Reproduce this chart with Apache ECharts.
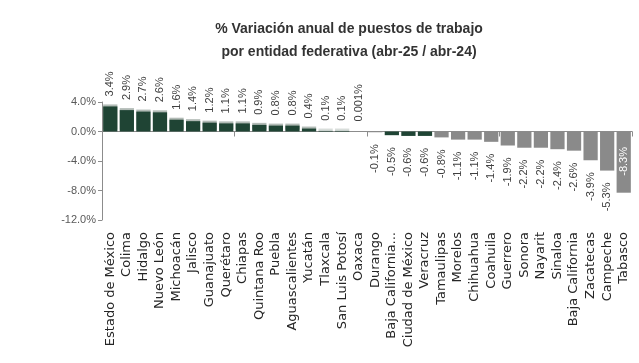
<!DOCTYPE html>
<html>
<head>
<meta charset="utf-8">
<script src="https://cdn.jsdelivr.net/npm/echarts@6/dist/echarts.min.js"></script>
<style>html,body{margin:0;padding:0;background:#fff}#c{width:639px;height:363px}</style>
</head>
<body>
<div id="c"></div>
<script>
const categories = ["Estado de México","Colima","Hidalgo","Nuevo León","Michoacán","Jalisco","Guanajuato","Querétaro","Chiapas","Quintana Roo","Puebla","Aguascalientes","Yucatán","Tlaxcala","San Luis Potosí","Oaxaca","Durango","Baja California...","Ciudad de México","Veracruz","Tamaulipas","Morelos","Chihuahua","Coahuila","Guerrero","Sonora","Nayarit","Sinaloa","Baja California","Zacatecas","Campeche","Tabasco"];
const values = [3.4,2.9,2.7,2.6,1.6,1.4,1.2,1.1,1.1,0.9,0.8,0.8,0.4,0.1,0.1,0.001,-0.1,-0.5,-0.6,-0.6,-0.8,-1.1,-1.1,-1.4,-1.9,-2.2,-2.2,-2.4,-2.6,-3.9,-5.3,-8.3];
const valueLabels = ["3.4%","2.9%","2.7%","2.6%","1.6%","1.4%","1.2%","1.1%","1.1%","0.9%","0.8%","0.8%","0.4%","0.1%","0.1%","0.001%","-0.1%","-0.5%","-0.6%","-0.6%","-0.8%","-1.1%","-1.1%","-1.4%","-1.9%","-2.2%","-2.2%","-2.4%","-2.6%","-3.9%","-5.3%","-8.3%"];
const yTicks = {min:-12, max:4, interval:4};

const GREEN = '#1f4434';
const GRAY = '#8a8a8a';
const data = values.map((v, i) => {
  const isGreen = i < 16 || (i >= 17 && i <= 19);
  const item = {
    value: v,
    itemStyle: { color: isGreen ? GREEN : GRAY }
  };
  if (v > 0) {
    item.itemStyle.shadowColor = 'rgba(170,180,174,0.9)';
    item.itemStyle.shadowOffsetY = -2;
    item.itemStyle.shadowBlur = 0;
    item.label = { position: 'top', align: 'left', verticalAlign: 'middle', distance: 10 };
  } else if (i === values.length - 1) {
    item.label = { position: 'insideBottom', align: 'left', verticalAlign: 'middle', distance: 17, color: '#ffffff' };
  } else {
    item.label = { position: 'bottom', align: 'right', verticalAlign: 'middle', distance: 12 };
  }
  return item;
});

const chart = echarts.init(document.getElementById('c'), null, {renderer: 'canvas'});
chart.setOption({
  animation: false,
  backgroundColor: '#ffffff',
  title: {
    text: '% Variación anual de puestos de trabajo\npor entidad federativa (abr-25 / abr-24)',
    left: 344, top: 13, textAlign: 'center',
    textStyle: { fontFamily: 'Liberation Sans', fontWeight: 'bold', fontSize: 14, color: '#333333', lineHeight: 23 }
  },
  grid: { left: 102, right: 7, top: 102, bottom: 143, containLabel: false },
  xAxis: [
    {
      type: 'category', data: categories, position: 'bottom',
      axisLine: { onZero: true, lineStyle: { color: '#8c8c8c', width: 1 } },
      axisTick: { show: true, length: 5, lineStyle: { color: '#8c8c8c' } },
      axisLabel: { show: false }
    },
    {
      type: 'category', data: categories, position: 'bottom',
      axisLine: { show: false, onZero: false },
      axisTick: { show: false },
      axisLabel: { rotate: 90, margin: 12, interval: 0, fontFamily: 'DejaVu Sans', fontSize: 13, color: '#262626' }
    }
  ],
  yAxis: {
    type: 'value', min: yTicks.min, max: yTicks.max, interval: yTicks.interval,
    axisLine: { show: true, lineStyle: { color: '#8c8c8c' } },
    axisTick: { show: true, length: 4, lineStyle: { color: '#8c8c8c' } },
    splitLine: { show: false },
    axisLabel: { formatter: v => v.toFixed(1) + '%', fontFamily: 'Liberation Sans', fontSize: 11, color: '#595959', margin: 6 }
  },
  series: [{
    type: 'bar', xAxisIndex: 0, data: data, barCategoryGap: '14%',
    label: {
      show: true, rotate: 90, fontFamily: 'Liberation Sans', fontSize: 11, color: '#404040',
      formatter: p => valueLabels[p.dataIndex]
    }
  }]
});
</script>
</body>
</html>
